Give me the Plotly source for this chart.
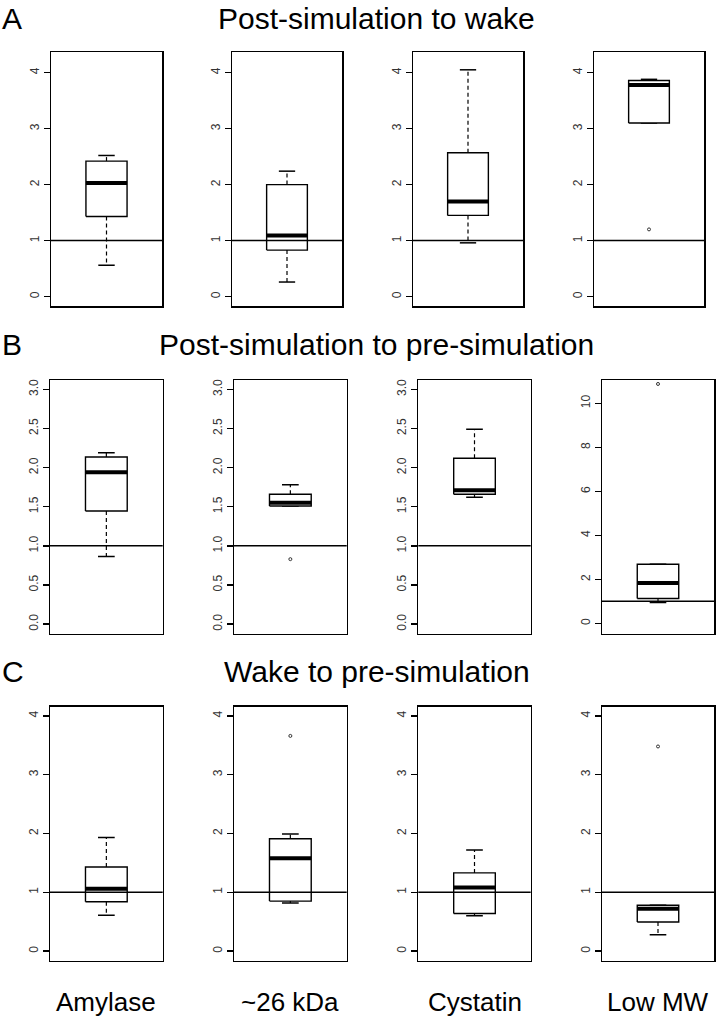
import plotly.graph_objects as go

W, H = 719, 1020

categories = ["Amylase", "~26 kDa", "Cystatin", "Low MW"]
row_letters = ["A", "B", "C"]
row_titles = ["Post-simulation to wake",
              "Post-simulation to pre-simulation",
              "Wake to pre-simulation"]

# Row A: Post-simulation to wake
A_low = [0.56, 0.26, 0.96, 3.10]
A_q1 = [1.43, 0.83, 1.45, 3.10]
A_med = [2.03, 1.09, 1.70, 3.78]
A_q3 = [2.42, 2.00, 2.57, 3.86]
A_high = [2.52, 2.24, 4.05, 3.88]
A_out = [[], [], [], [1.20]]

# Row B: Post-simulation to pre-simulation
B_low = [0.865, 1.51, 1.62, 0.95]
B_q1 = [1.445, 1.51, 1.66, 1.13]
B_med = [1.94, 1.55, 1.71, 1.83]
B_q3 = [2.135, 1.66, 2.12, 2.69]
B_high = [2.19, 1.78, 2.49, 2.69]
B_out = [[], [0.83], [], [10.88]]

# Row C: Wake to pre-simulation
C_low = [0.61, 0.82, 0.60, 0.28]
C_q1 = [0.84, 0.85, 0.64, 0.495]
C_med = [1.06, 1.58, 1.08, 0.72]
C_q3 = [1.43, 1.91, 1.33, 0.78]
C_high = [1.93, 1.99, 1.72, 0.78]
C_out = [[], [3.66], [], [3.48]]

reference_value = 1

# axis settings
y_ranges = [
    [[-0.168, 4.368]] * 4,
    [[-0.12, 3.12]] * 3 + [[-0.46, 11.06]],
    [[-0.16, 4.16]] * 4,
]
tick_sets = [
    [([0, 1, 2, 3, 4], ["0", "1", "2", "3", "4"])] * 4,
    [([0, 0.5, 1, 1.5, 2, 2.5, 3], ["0.0", "0.5", "1.0", "1.5", "2.0", "2.5", "3.0"])] * 3
    + [([0, 2, 4, 6, 8, 10], ["0", "2", "4", "6", "8", "10"])],
    [([0, 1, 2, 3, 4], ["0", "1", "2", "3", "4"])] * 4,
]

# layout geometry (pixels)
row_px = [(52, 306), (380, 633.5), (706.5, 960.5)]
col_px = [
    [(51, 162), (232, 342), (413, 523), (594, 704)],
    [(50, 162.7), (234, 346.7), (418.3, 530.7), (602, 714)],
    [(50, 162.7), (234, 346.7), (418.3, 530.7), (602, 714)],
]
title_y_px = [18, 344, 671]

rows = [
    (A_low, A_q1, A_med, A_q3, A_high, A_out),
    (B_low, B_q1, B_med, B_q3, B_high, B_out),
    (C_low, C_q1, C_med, C_q3, C_high, C_out),
]

FONT = "Liberation Sans, Arial, Helvetica, sans-serif"
box_half = 0.2
cap_half = 0.08
center = 1.0

fig = go.Figure()
layout = dict(
    template="none",
    width=W, height=H, autosize=False,
    margin=dict(l=0, r=0, t=0, b=0, pad=0),
    paper_bgcolor="white", plot_bgcolor="white",
    showlegend=False,
    font=dict(family=FONT, color="black"),
)
shapes = []
annotations = []

k = 0
for r, (lo, q1, med, q3, hi, outs) in enumerate(rows):
    top, bot = row_px[r]
    for c in range(4):
        k += 1
        xa = "x" if k == 1 else f"x{k}"
        ya = "y" if k == 1 else f"y{k}"
        xl = "xaxis" if k == 1 else f"xaxis{k}"
        yl = "yaxis" if k == 1 else f"yaxis{k}"
        x0, x1 = col_px[r][c]
        layout[xl] = dict(
            domain=[x0 / W, x1 / W], anchor=ya, range=[0.46, 1.54],
            showgrid=False, zeroline=False, showticklabels=False, ticks="",
            showline=True, mirror=True, linecolor="black", linewidth=1.5,
            fixedrange=True, automargin=False,
        )
        tv, tt = tick_sets[r][c]
        layout[yl] = dict(
            domain=[1 - bot / H, 1 - top / H], anchor=xa, range=y_ranges[r][c],
            showgrid=False, zeroline=False,
            tickvals=tv, ticktext=tt, tickangle=-90,
            ticks="outside", ticklen=6, tickwidth=1.3, tickcolor="black",
            tickfont=dict(family=FONT, size=12, color="#333333"),
            showline=True, mirror=True, linecolor="black", linewidth=1.5,
            fixedrange=True, automargin=False,
        )
        # reference line at 1
        shapes.append(dict(type="line", xref=f"{xa} domain", yref=ya,
                           x0=0, x1=1, y0=reference_value, y1=reference_value,
                           line=dict(color="black", width=1.5)))
        # whiskers (dashed)
        fig.add_trace(go.Scatter(x=[center, center], y=[q3[c], hi[c]], xaxis=xa, yaxis=ya,
                                 mode="lines", line=dict(color="black", width=1.2, dash="4px,3px"),
                                 hoverinfo="skip"))
        fig.add_trace(go.Scatter(x=[center, center], y=[q1[c], lo[c]], xaxis=xa, yaxis=ya,
                                 mode="lines", line=dict(color="black", width=1.2, dash="4px,3px"),
                                 hoverinfo="skip"))
        # caps
        for v in (lo[c], hi[c]):
            fig.add_trace(go.Scatter(x=[center - cap_half, center + cap_half], y=[v, v],
                                     xaxis=xa, yaxis=ya, mode="lines",
                                     line=dict(color="black", width=1.5), hoverinfo="skip"))
        # box
        fig.add_trace(go.Scatter(
            x=[center - box_half, center + box_half, center + box_half, center - box_half, center - box_half],
            y=[q1[c], q1[c], q3[c], q3[c], q1[c]],
            xaxis=xa, yaxis=ya, mode="lines", fill="toself", fillcolor="white",
            line=dict(color="black", width=1.4), hoverinfo="skip"))
        # median
        fig.add_trace(go.Scatter(x=[center - box_half, center + box_half], y=[med[c], med[c]],
                                 xaxis=xa, yaxis=ya, mode="lines",
                                 line=dict(color="black", width=4), hoverinfo="skip"))
        # outliers
        if outs[c]:
            fig.add_trace(go.Scatter(x=[center] * len(outs[c]), y=outs[c], xaxis=xa, yaxis=ya,
                                     mode="markers",
                                     marker=dict(symbol="circle-open", size=3, color="#333333",
                                                 line=dict(width=1)),
                                     hoverinfo="skip"))
    # row letter and title
    annotations.append(dict(text=row_letters[r], xref="paper", yref="paper",
                            x=0, y=1 - title_y_px[r] / H, xanchor="left", yanchor="middle",
                            showarrow=False, font=dict(family=FONT, size=30, color="black")))
    annotations.append(dict(text=row_titles[r], xref="paper", yref="paper",
                            x=377 / W, y=1 - title_y_px[r] / H, xanchor="center", yanchor="middle",
                            showarrow=False, font=dict(family=FONT, size=30, color="black")))

# bottom category labels
for c, name in enumerate(categories):
    x0, x1 = col_px[2][c]
    annotations.append(dict(text=name, xref="paper", yref="paper",
                            x=(x0 + x1) / 2 / W, y=1 - 1002 / H, xanchor="center", yanchor="middle",
                            showarrow=False, font=dict(family=FONT, size=26, color="black")))

layout["shapes"] = shapes
layout["annotations"] = annotations
fig.update_layout(**layout)
fig.write_html(
    "out.html",
    config={"displayModeBar": False, "staticPlot": True},
    post_script="document.body.style.margin='0';document.body.style.overflow='hidden';",
)
